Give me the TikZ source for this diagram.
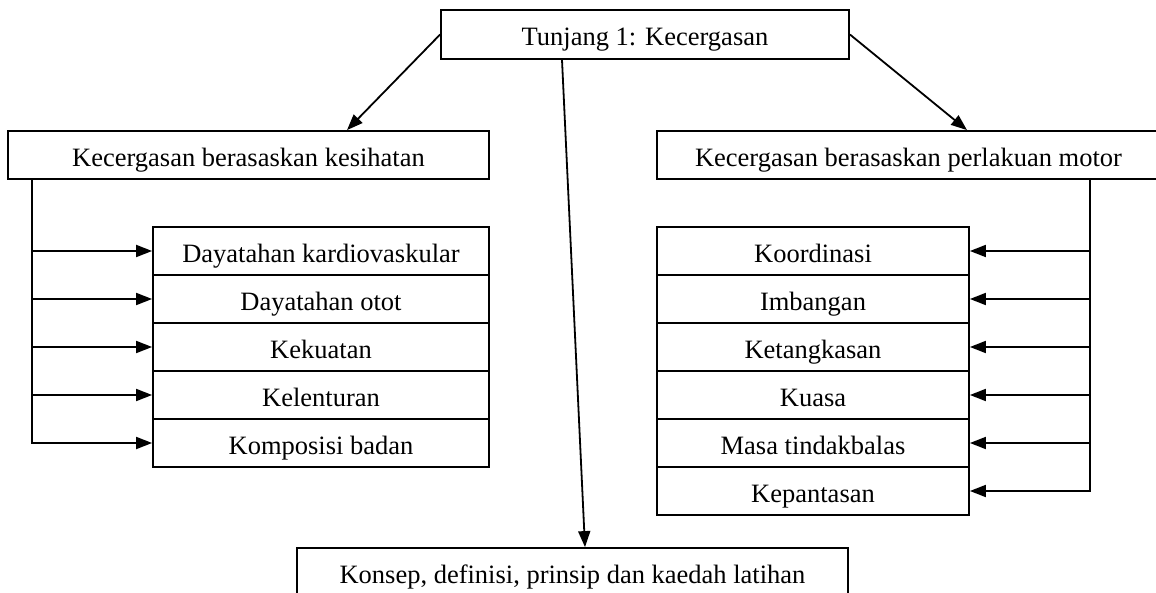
\documentclass[tikz,border=0pt]{standalone}
\usepackage{fontspec}
\setmainfont{Liberation Serif}
\usetikzlibrary{arrows.meta, positioning, calc}

\begin{document}
\begin{tikzpicture}[
    x=1pt, y=-1pt,
    font=\fontsize{26.5pt}{30pt}\selectfont,
    kotak/.style={draw, line width=1.8pt, minimum height=48pt, inner sep=0pt,
        text height=25pt, text depth=2pt},
    panah/.style={line width=1.8pt, -{Triangle[length=16pt, width=12pt]}},
]
\useasboundingbox (0,0) rectangle (1156,593);

% ---- tunjang ----
\node[kotak, minimum width=408pt, minimum height=49pt] (tunjang) at (645,34.5) {Tunjang 1: Kecergasan};

% ---- dua cabang ----
\node[kotak, minimum width=481pt] (kesihatan) at (248.5,155) {Kecergasan berasaskan kesihatan};
\node[kotak, minimum width=503pt] (motor) at (908.5,155) {Kecergasan berasaskan perlakuan motor};
\node[kotak, minimum width=551pt] (konsep) at (572.5,572) {Konsep, definisi, prinsip dan kaedah latihan};

\draw[panah] (tunjang.west) -- ([xshift=98.5pt]kesihatan.north);
\draw[panah] (tunjang.east) -- ([xshift=58.5pt]motor.north);
\draw[panah] ([xshift=-83pt]tunjang.south) -- ([xshift=12.5pt]konsep.north);

% ---- komponen kesihatan ----
\foreach \t [count=\i] in {Dayatahan kardiovaskular, Dayatahan otot, Kekuatan, Kelenturan, Komposisi badan} {
    \node[kotak, minimum width=336pt] (sihat\i) at (321,203+48*\i) {\t};
    \draw[panah] ([xshift=25pt]kesihatan.south west) |- (sihat\i.west);
}

% ---- komponen motor ----
\foreach \t [count=\i] in {Koordinasi, Imbangan, Ketangkasan, Kuasa, Masa tindakbalas, Kepantasan} {
    \node[kotak, minimum width=312pt] (motor\i) at (813,203+48*\i) {\t};
    \draw[panah] ([xshift=-71pt]motor.south east) |- (motor\i.east);
}

\end{tikzpicture}
\end{document}
